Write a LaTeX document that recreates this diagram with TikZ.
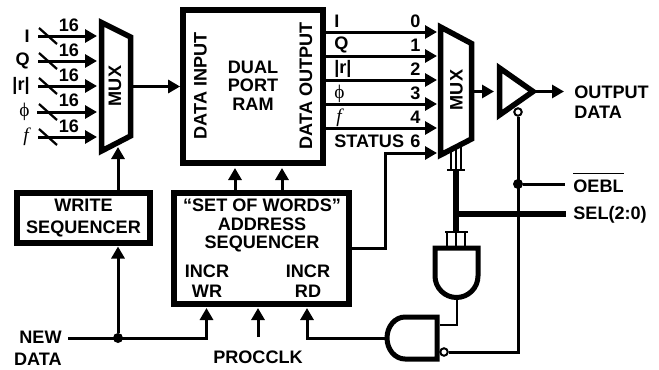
\documentclass[tikz,border=0pt]{standalone}
\usepackage{fontspec}
\setmainfont{Liberation Sans}
\newfontfamily\symfont{Liberation Serif}
\usetikzlibrary{arrows.meta}
\tikzset{
  blockbox/.style={draw, line width=1.15mm, inner sep=0pt, align=center},
  muxshape/.style={line width=1.1mm, line join=miter},
  sigline/.style={line width=0.6mm},
  sigarrow/.style={line width=0.6mm, -{Triangle[length=2.4mm,width=2.6mm]}},
  busline/.style={line width=1.2mm},
  tickline/.style={line width=0.3mm},
  slashline/.style={line width=0.45mm},
  gateline/.style={line width=1mm, line join=miter},
  txt/.style={inner sep=0pt, align=center},
  tighttxt/.style={inner sep=0pt, align=center, font=\bfseries\fontsize{10.3}{10.5}\selectfont},
  bubble/.style={circle, draw, fill=white, line width=0.4mm, inner sep=0pt, minimum size=1.5mm},
  joindot/.style={circle, fill=black, inner sep=0pt, minimum size=2mm}
}
\begin{document}
\begin{tikzpicture}[x=0.2mm, y=-0.2mm,
      every node/.style={font=\bfseries\fontsize{10.3}{11.5}\selectfont}]
    \useasboundingbox (0,0) rectangle (659,370);
    \node[blockbox, minimum width=28mm, minimum height=30.6mm] (ram) at (253,86.5) {};
    \node[blockbox, minimum width=26.6mm, minimum height=10mm] (wseq) at (83.5,218) {WRITE\\[0.6pt]SEQUENCER};
    \node[blockbox, minimum width=35mm, minimum height=22.2mm] (addr) at (261.5,248.5) {};
    \node[tighttxt] (ramtxt) at (253,85.5) {DUAL\\PORT\\RAM};
    \node[txt, rotate=90] (datain) at (200.5,86) {DATA INPUT};
    \node[txt, rotate=90] (dataout) at (306,86) {DATA OUTPUT};
    \node[tighttxt] (addrtxt) at (262,225.5) {``SET OF WORDS''\\ADDRESS\\SEQUENCER};
    \node[txt] (incrwr) at (207,281) {INCR\\WR};
    \node[txt] (incrrd) at (308,281) {INCR\\RD};
    \draw[muxshape] (101.5,22.5) -- (130.5,37) -- (130.5,136) -- (101.5,151) -- cycle;
    \draw[muxshape] (440.5,27) -- (471.5,43.5) -- (471.5,139) -- (440.5,155) -- cycle;
    \node[txt, rotate=90] (muxa) at (115,86) {MUX};
    \node[txt, rotate=90] (muxb) at (456.5,90) {MUX};
    \node[txt, anchor=east] (lbli) at (30,36) {I};
    \node[txt, anchor=east] (lblq) at (30,61) {Q};
    \node[txt, anchor=east] (lblr) at (30,86) {|r|};
    \node[txt, anchor=east, font=\symfont\fontsize{11}{11}\selectfont] (lblphi) at (30,112) {ϕ};
    \node[txt, anchor=east, font=\symfont\itshape\fontsize{11}{11}\selectfont] (lblf) at (29,137) {f};
    \node[txt] (wi) at (69,25) {16};
    \node[txt] (wq) at (69,50) {16};
    \node[txt] (wr) at (69,75.5) {16};
    \node[txt] (wphi) at (69,100) {16};
    \node[txt] (wf) at (69,126) {16};
    \coordinate (ini) at (38,36);
    \coordinate (inq) at (38,61);
    \coordinate (inr) at (38,86);
    \coordinate (inphi) at (37,112);
    \coordinate (inf) at (38,137);
    \coordinate (muxi) at (97,36);
    \coordinate (muxq) at (97,61);
    \coordinate (muxr) at (97,86);
    \coordinate (muxphi) at (97,112);
    \coordinate (muxf) at (97,137);
    \draw[sigarrow] (ini) -- (muxi);
    \draw[sigarrow] (inq) -- (muxq);
    \draw[sigarrow] (inr) -- (muxr);
    \draw[sigarrow] (inphi) -- (muxphi);
    \draw[sigarrow] (inf) -- (muxf);
    \draw[slashline] (39,28) -- (57,44);
    \draw[slashline] (39,53) -- (57,69);
    \draw[slashline] (39,78) -- (57,94);
    \draw[slashline] (39,104) -- (57,120);
    \draw[slashline] (39,129) -- (57,145);
    \coordinate (muxaout) at (132,86.5);
    \draw[sigarrow] (muxaout) -- (ram.west |- muxaout);
    \coordinate (muxasel) at (118,147);
    \draw[sigarrow] (wseq.north -| muxasel) -- (muxasel);
    \coordinate (ramo0) at (437,32);
    \coordinate (ramo1) at (437,56);
    \coordinate (ramo2) at (437,80);
    \coordinate (ramo3) at (437,104);
    \coordinate (ramo4) at (437,128);
    \coordinate (ramo6) at (437,153);
    \draw[sigarrow] (ram.east |- ramo0) -- (ramo0);
    \draw[sigarrow] (ram.east |- ramo1) -- (ramo1);
    \draw[sigarrow] (ram.east |- ramo2) -- (ramo2);
    \draw[sigarrow] (ram.east |- ramo3) -- (ramo3);
    \draw[sigarrow] (ram.east |- ramo4) -- (ramo4);
    \coordinate (statcorner) at (385,153);
    \draw[sigarrow] (addr.east) -| (statcorner) -- (ramo6);
    \node[txt, anchor=west] (oi) at (334,21) {I};
    \node[txt, anchor=west] (oq) at (334,45) {Q};
    \node[txt, anchor=west] (or) at (334,69) {|r|};
    \node[txt, anchor=west, font=\symfont\fontsize{11}{11}\selectfont] (ophi) at (334,94) {ϕ};
    \node[txt, anchor=west, font=\symfont\itshape\fontsize{11}{11}\selectfont] (of) at (336,118) {f};
    \node[txt, anchor=west] (ostatus) at (334,141) {STATUS};
    \node[txt] (n0) at (415.5,21) {0};
    \node[txt] (n1) at (415.5,45) {1};
    \node[txt] (n2) at (415.5,69) {2};
    \node[txt] (n3) at (415.5,93) {3};
    \node[txt] (n4) at (415.5,117) {4};
    \node[txt] (n6) at (415.5,141) {6};
    \coordinate (addra) at (235,168);
    \coordinate (addrb) at (282,168);
    \draw[sigarrow] (addr.north -| addra) -- (addra);
    \draw[sigarrow] (addr.north -| addrb) -- (addrb);
    \draw[muxshape] (499.5,68) -- (533,91.5) -- (499.5,115) -- cycle;
    \coordinate (bufin) at (494,91.5);
    \coordinate (bufout) at (536,91.5);
    \coordinate (outend) at (564,91.5);
    \coordinate (muxbout) at (473,91.5);
    \draw[sigarrow] (muxbout) -- (bufin);
    \draw[sigarrow] (bufout) -- (outend);
    \node[txt, anchor=west, align=left] (outlbl) at (574,102) {OUTPUT\\DATA};
    \node[bubble] (bufbub) at (518,112) {};
    \node[txt, anchor=base west] (oebl) at (573,192.5) {$\overline{\rule{0pt}{3.25mm}\mbox{OEBL}}$};
    \node[txt, anchor=west] (sel) at (573,215) {SEL(2:0)};
    \coordinate (busjoin) at (456,214);
    \coordinate (bustop) at (456,170);
    \coordinate (buslow) at (456,232);
    \coordinate (selend) at (566,214);
    \coordinate (oeend) at (565,184);
    \node[joindot] (oedot) at (518,184) {};
    \draw[sigline] (oedot) -- (oeend);
    \draw[busline] (bustop) -- (buslow);
    \draw[busline] (busjoin) -- (selend);
    \draw[tickline] (447,170) -- (465,170);
    \draw[tickline] (451,170) -- (451,152);
    \draw[tickline] (456,170) -- (456,149);
    \draw[tickline] (461,170) -- (461,146);
    \draw[tickline] (445,232) -- (468,232);
    \draw[tickline] (447,232) -- (447,246);
    \draw[tickline] (456,232) -- (456,246);
    \draw[tickline] (465,232) -- (465,246);
    \draw[gateline] (435,248) -- (478,248) -- (478,276) arc[start angle=0, end angle=180, radius=21.5] -- cycle;
    \draw[gateline] (437,317) -- (405,317) arc[start angle=270, end angle=90, x radius=18, y radius=21] -- (437,359) -- cycle;
    \coordinate (andout) at (457,299);
    \coordinate (nandin) at (440,325);
    \draw[line width=0.45mm] (andout) |- (nandin);
    \node[bubble] (nandbub) at (444,352) {};
    \coordinate (oecorner) at (518,352);
    \draw[sigline] (nandbub) -- (oecorner) -- (bufbub);
    \coordinate (nandout) at (387,338);
    \coordinate (incrrdin) at (307,308);
    \draw[sigarrow] (nandout) -| (incrrdin);
    \node[txt, align=right, anchor=north east] (newlbl) at (62,331) {NEW\\[1pt]DATA};
    \coordinate (ndstart) at (68,338);
    \coordinate (incrwrin) at (206.5,308);
    \node[joindot] (nddot) at (118,338) {};
    \draw[sigarrow] (ndstart) -| (incrwrin);
    \coordinate (wseqin) at (118,246.5);
    \draw[sigarrow] (nddot) -- (wseqin);
    \node[txt] (clk) at (258,357) {PROCCLK};
    \coordinate (clkstart) at (258,337);
    \coordinate (clkin) at (258,308);
    \draw[sigarrow] (clkstart) -- (clkin);
  \end{tikzpicture}
\end{document}
